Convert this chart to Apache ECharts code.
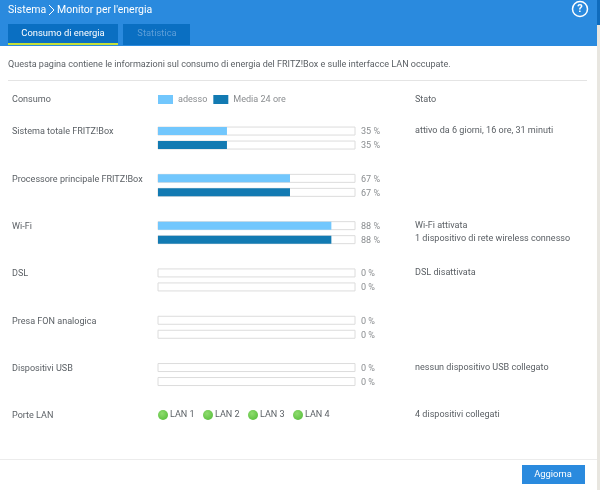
<!DOCTYPE html>
<html>
<head>
<meta charset="utf-8">
<title>Monitor per l'energia</title>
<script src="https://cdn.jsdelivr.net/npm/echarts@6/dist/echarts.min.js"></script>
<style>
html, body { margin: 0; padding: 0; background: #fff; }
#container { width: 600px; height: 490px; }
</style>
</head>
<body>
<div id="container"></div>
<script>
var categorie = ['Sistema totale FRITZ!Box', 'Processore principale FRITZ!Box', 'Wi-Fi', 'DSL', 'Presa FON analogica', 'Dispositivi USB', 'Porte LAN'];
var adesso = [35, 67, 88, 0, 0, 0];
var media24 = [35, 67, 88, 0, 0, 0];
var stato = [
	['attivo da 6 giorni, 16 ore, 31 minuti'],
	[],
	['Wi-Fi attivata', '1 dispositivo di rete wireless connesso'],
	['DSL disattivata'],
	[],
	['nessun dispositivo USB collegato'],
	['4 dispositivi collegati']
];
var porteLan = ['LAN 1', 'LAN 2', 'LAN 3', 'LAN 4'];

var FONT = 'Roboto';
var GRIGIO = '#5a5f64';
var CORPO = 9.05;

function testo(x, y, str, colore, size, align) {
	return {
		type: 'text', x: x, y: y + 1, silent: true,
		style: {
			text: str, fill: colore || GRIGIO, font: (size || CORPO) + 'px ' + FONT,
			textAlign: align || 'left', textVerticalAlign: 'middle'
		}
	};
}
function rett(x, y, w, h, colore) {
	return { type: 'rect', shape: { x: x, y: y, width: w, height: h }, style: { fill: colore }, silent: true };
}

var grafica = [
	// intestazione
	rett(0, 0, 597, 46, '#2a8ade'),
	rett(597, 0, 3, 25, '#0f6cbd'),
	rett(597, 25, 3, 465, '#e8e6e0'),
	testo(8, 9, 'Sistema', '#fff', 10.5),
	{ type: 'polyline', shape: { points: [[49, 5], [54, 10], [49, 15]] }, style: { stroke: '#fff', lineWidth: 1, fill: null }, silent: true },
	testo(57, 9, "Monitor per l'energia", '#fff', 10.5),
	{ type: 'circle', shape: { cx: 580, cy: 9, r: 7.5 }, style: { stroke: '#fff', lineWidth: 1.5, fill: null }, silent: true },
	{ type: 'text', x: 580, y: 9.5, silent: true, style: { text: '?', fill: '#fff', font: 'bold 11px ' + FONT, textAlign: 'center', textVerticalAlign: 'middle' } },
	// schede
	rett(8, 24, 110, 21, '#0a6fc2'),
	rett(8, 43, 110, 2, '#c4e03a'),
	testo(63, 32.5, 'Consumo di energia', '#fff', 9.4, 'center'),
	rett(123, 24, 67, 21, '#0a6fc2'),
	testo(157, 32.5, 'Statistica', '#5f9fd8', 9.4, 'center'),
	// corpo
	testo(8, 64, 'Questa pagina contiene le informazioni sul consumo di energia del FRITZ!Box e sulle interfacce LAN occupate.'),
	rett(8, 80, 579, 1, '#e4e4e4'),
	testo(12, 98.5, 'Consumo'),
	testo(415, 98.5, 'Stato'),
	rett(0, 459, 597, 1, '#ececec'),
	rett(522, 465, 63, 19, '#2a8ade'),
	testo(553, 474, 'Aggiorna', '#fff', 9.4, 'center')
];

// colonna stato
stato.forEach(function (righe, i) {
	righe.forEach(function (r, j) {
		grafica.push(testo(415, 130 + i * 47.3 + j * 13, r));
	});
});

// porte LAN
porteLan.forEach(function (nome, i) {
	var x = 163 + i * 45;
	grafica.push({
		type: 'circle', shape: { cx: x, cy: 415, r: 5 }, silent: true,
		style: {
			fill: new echarts.graphic.RadialGradient(0.4, 0.35, 0.7, [
				{ offset: 0, color: '#8fdc6e' }, { offset: 1, color: '#5cc040' }
			])
		}
	});
	grafica.push(testo(x + 7, 414, nome));
});

var etichettaBarra = {
	show: true,
	position: 'right',
	formatter: '{c} %',
	color: '#8a8d90',
	fontFamily: FONT,
	fontSize: CORPO
};
var disposizione = { x: 361, dy: 1, align: 'left', verticalAlign: 'middle' };
var sfondo = { color: '#fff', borderColor: '#dcdcdc', borderWidth: 1 };

var myChart = echarts.init(document.getElementById('container'));
myChart.setOption({
	animation: false,
	backgroundColor: '#fff',
	textStyle: { fontFamily: FONT },
	legend: {
		left: 158, top: 95, padding: 0,
		itemWidth: 15, itemHeight: 9, itemGap: 6,
		icon: 'rect',
		selectedMode: false,
		textStyle: { color: '#8a8d90', fontSize: CORPO, fontFamily: FONT },
		data: ['adesso', 'Media 24 ore']
	},
	grid: { left: 158, top: 114.4, width: 197, height: 331.1 },
	xAxis: { type: 'value', min: 0, max: 100, show: false },
	yAxis: {
		type: 'category', inverse: true, data: categorie,
		axisLine: { show: false }, axisTick: { show: false },
		axisLabel: {
			color: GRIGIO, fontSize: CORPO, fontFamily: FONT,
			margin: 146, align: 'left', verticalAlign: 'bottom', lineHeight: 12
		}
	},
	series: [
		{
			name: 'adesso', type: 'bar', data: adesso,
			barWidth: 8, barGap: '75%',
			itemStyle: { color: '#72c7fd' },
			showBackground: true, backgroundStyle: sfondo,
			label: etichettaBarra, labelLayout: disposizione
		},
		{
			name: 'Media 24 ore', type: 'bar', data: media24,
			barWidth: 8,
			itemStyle: { color: '#127ab2' },
			showBackground: true, backgroundStyle: sfondo,
			label: etichettaBarra, labelLayout: disposizione
		}
	],
	graphic: { elements: grafica }
});
</script>
</body>
</html>
